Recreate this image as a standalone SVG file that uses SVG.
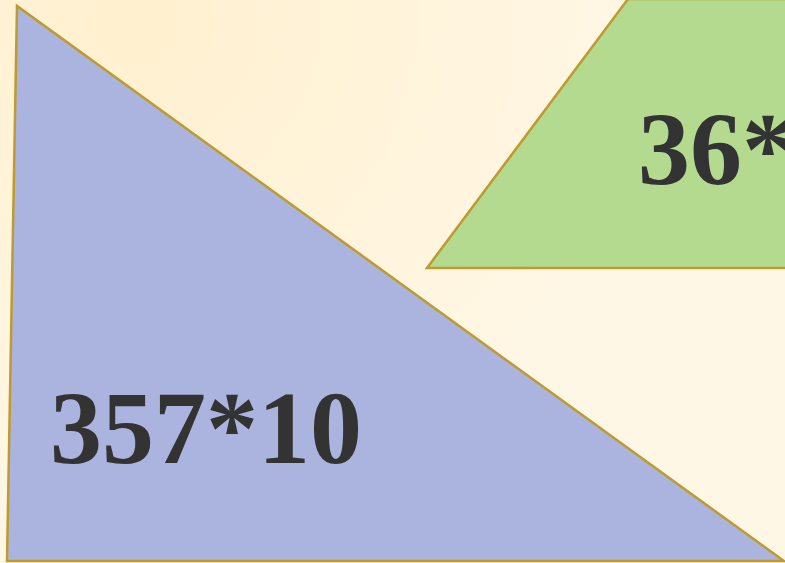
<svg xmlns="http://www.w3.org/2000/svg" width="785" height="563" viewBox="0 0 785 563">
<defs>
<radialGradient id="bg" cx="130" cy="20" r="500" gradientUnits="userSpaceOnUse">
<stop offset="0" stop-color="#FFF0CF"/>
<stop offset="1" stop-color="#FFF7E5"/>
</radialGradient>
<style>
.shape{stroke:#BF9A2E;stroke-width:2.5;stroke-linejoin:miter}
.lbl{font-family:"Liberation Serif","Times New Roman",serif;font-weight:bold;font-size:104px;fill:#333333}
</style>
</defs>
<rect x="0" y="0" width="785" height="563" fill="url(#bg)"/>
<g id="triangle">
<polygon class="shape" fill="#AAB4DE" points="17,6 7,561 784,561"/>
<text class="lbl" x="50" y="463">357*10</text>
</g>
<g id="trapezoid">
<polygon class="shape" fill="#B4DA90" points="427,268 628,-1 790,-1 790,268"/>
<text class="lbl" x="638" y="184">36*</text>
</g>
</svg>
